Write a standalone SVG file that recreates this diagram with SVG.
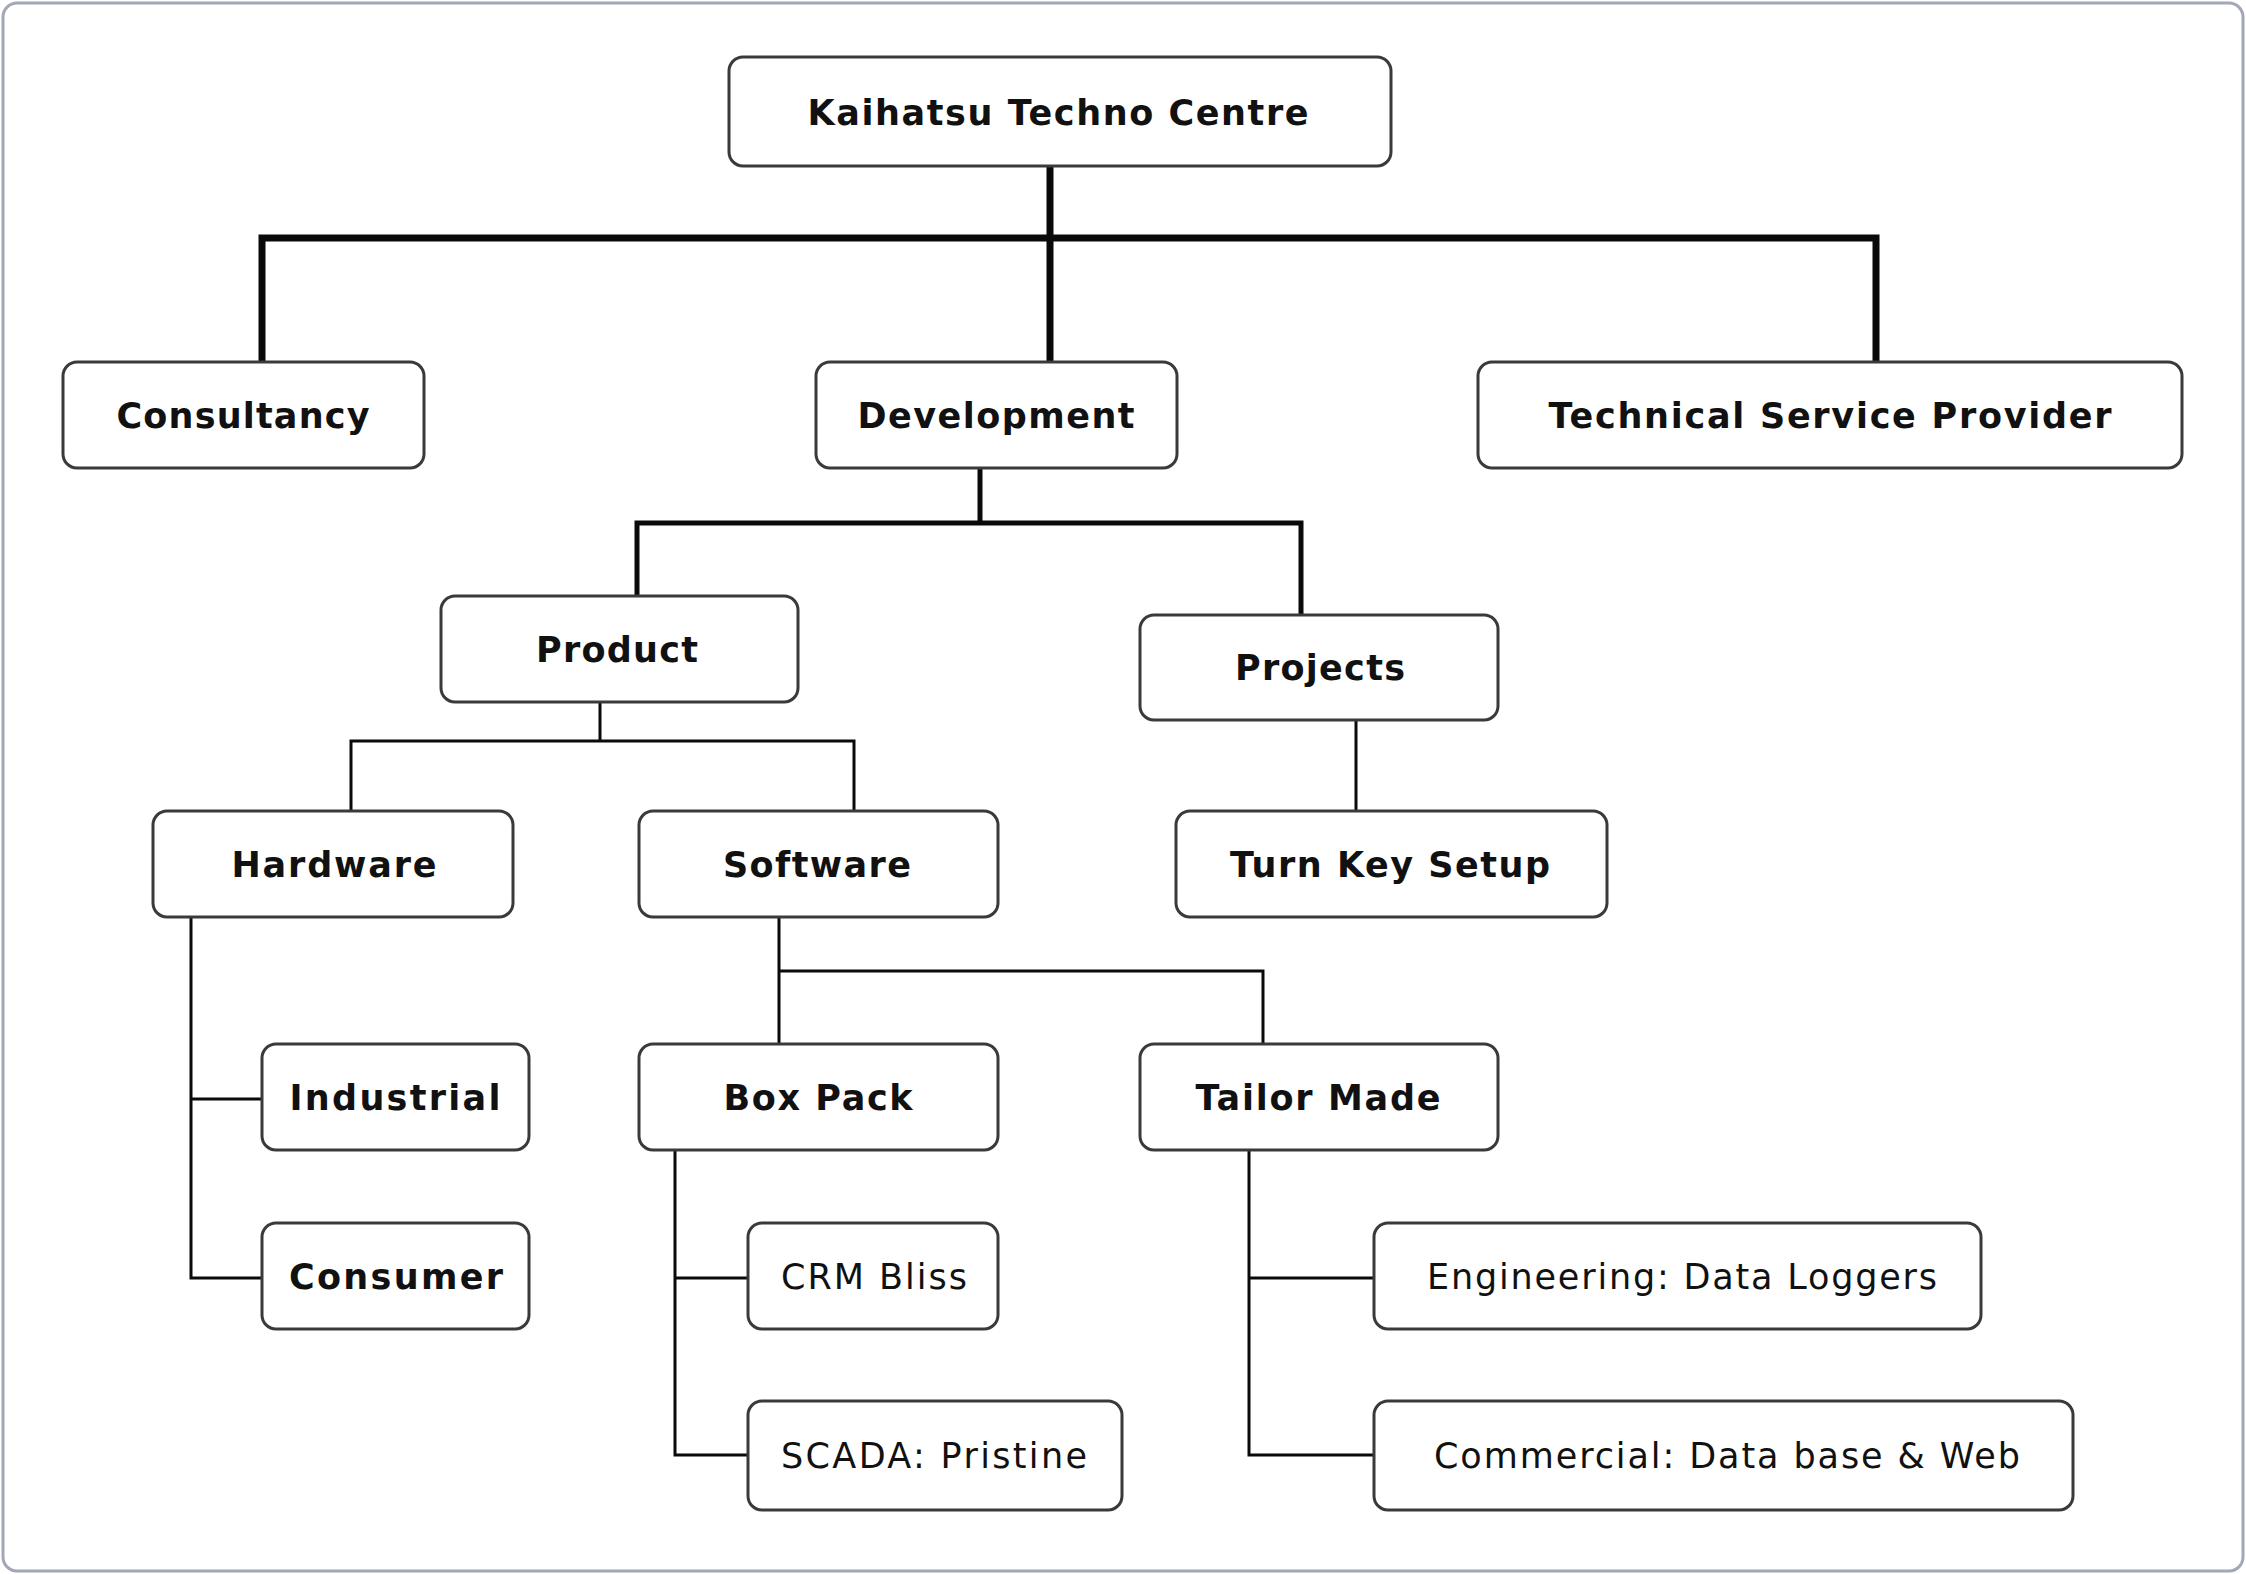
<svg xmlns="http://www.w3.org/2000/svg" width="2246" height="1574" viewBox="0 0 2246 1574">
<style>
.box{fill:#ffffff;stroke:#3a3a3a;stroke-width:3}
.shadow{fill:none;stroke:#c8c8c8;stroke-width:3}
.t{font-family:"DejaVu Sans","Liberation Sans",sans-serif;font-size:35px;fill:#111;text-anchor:middle}
.b{font-weight:bold}
.thick{fill:none;stroke:#0a0a0a;stroke-width:7;stroke-linejoin:miter}
.mid{fill:none;stroke:#0a0a0a;stroke-width:5}
.thin{fill:none;stroke:#0a0a0a;stroke-width:3}
</style>
<rect x="3" y="3" width="2240" height="1568" rx="14" fill="#ffffff" stroke="#a3a7b8" stroke-width="3"/>
<g id="connectors">
<path class="thick" d="M1050 166 V362 M262 362 V238 H1876 V362"/>
<path class="mid" d="M980 468 V523 M637 596 V523 H1301 V615"/>
<path class="thin" d="M600 702 V741 M351 811 V741 H854 V811"/>
<path class="thin" d="M1356 720 V811"/>
<path class="thin" d="M779 917 V1044 M779 971 H1263 V1044"/>
<path class="thin" d="M191 917 V1278 H262 M191 1099 H262"/>
<path class="thin" d="M675 1150 V1455 H748 M675 1278 H748"/>
<path class="thin" d="M1249 1150 V1455 H1374 M1249 1278 H1374"/>
</g>
<g id="root"><rect class="box" x="729" y="57" width="662" height="109" rx="14"/><text class="t b" x="1058" y="125" textLength="501" lengthAdjust="spacing">Kaihatsu Techno Centre</text></g>
<g id="consultancy"><rect class="box" x="63" y="362" width="361" height="106" rx="14"/><text class="t b" x="243" y="428" textLength="253" lengthAdjust="spacing">Consultancy</text></g>
<g id="development"><rect class="box" x="816" y="362" width="361" height="106" rx="14"/><text class="t b" x="996" y="428" textLength="277" lengthAdjust="spacing">Development</text></g>
<g id="tsp"><rect class="box" x="1478" y="362" width="704" height="106" rx="14"/><text class="t b" x="1830" y="428" textLength="563" lengthAdjust="spacing">Technical Service Provider</text></g>
<g id="product"><rect class="box" x="441" y="596" width="357" height="106" rx="14"/><text class="t b" x="617" y="662" textLength="162" lengthAdjust="spacing">Product</text></g>
<g id="projects"><rect class="box" x="1140" y="615" width="358" height="105" rx="14"/><text class="t b" x="1320" y="680" textLength="170" lengthAdjust="spacing">Projects</text></g>
<g id="hardware"><rect class="box" x="153" y="811" width="360" height="106" rx="14"/><text class="t b" x="334" y="877" textLength="205" lengthAdjust="spacing">Hardware</text></g>
<g id="software"><rect class="box" x="639" y="811" width="359" height="106" rx="14"/><text class="t b" x="817" y="877" textLength="188" lengthAdjust="spacing">Software</text></g>
<g id="turnkey"><rect class="box" x="1176" y="811" width="431" height="106" rx="14"/><text class="t b" x="1390" y="877" textLength="320" lengthAdjust="spacing">Turn Key Setup</text></g>
<g id="industrial"><rect class="box" x="262" y="1044" width="267" height="106" rx="14"/><text class="t b" x="395" y="1110" textLength="211" lengthAdjust="spacing">Industrial</text></g>
<g id="consumer"><rect class="box" x="262" y="1223" width="267" height="106" rx="14"/><text class="t b" x="396" y="1289" textLength="214" lengthAdjust="spacing">Consumer</text></g>
<g id="boxpack"><rect class="box" x="639" y="1044" width="359" height="106" rx="14"/><text class="t b" x="818" y="1110" textLength="189" lengthAdjust="spacing">Box Pack</text></g>
<g id="tailormade"><rect class="box" x="1140" y="1044" width="358" height="106" rx="14"/><text class="t b" x="1318" y="1110" textLength="245" lengthAdjust="spacing">Tailor Made</text></g>
<g id="crmbliss"><rect class="box" x="748" y="1223" width="250" height="106" rx="14"/><text class="t" x="874" y="1289" textLength="186" lengthAdjust="spacing">CRM Bliss</text></g>
<g id="scada"><rect class="box" x="748" y="1401" width="374" height="109" rx="14"/><text class="t" x="934" y="1468" textLength="306" lengthAdjust="spacing">SCADA: Pristine</text></g>
<g id="engineering"><rect class="box" x="1374" y="1223" width="607" height="106" rx="14"/><text class="t" x="1682" y="1289" textLength="510" lengthAdjust="spacing">Engineering: Data Loggers</text></g>
<g id="commercial"><rect class="box" x="1374" y="1401" width="699" height="109" rx="14"/><text class="t" x="1727" y="1468" textLength="586" lengthAdjust="spacing">Commercial: Data base &amp; Web</text></g>
</svg>
